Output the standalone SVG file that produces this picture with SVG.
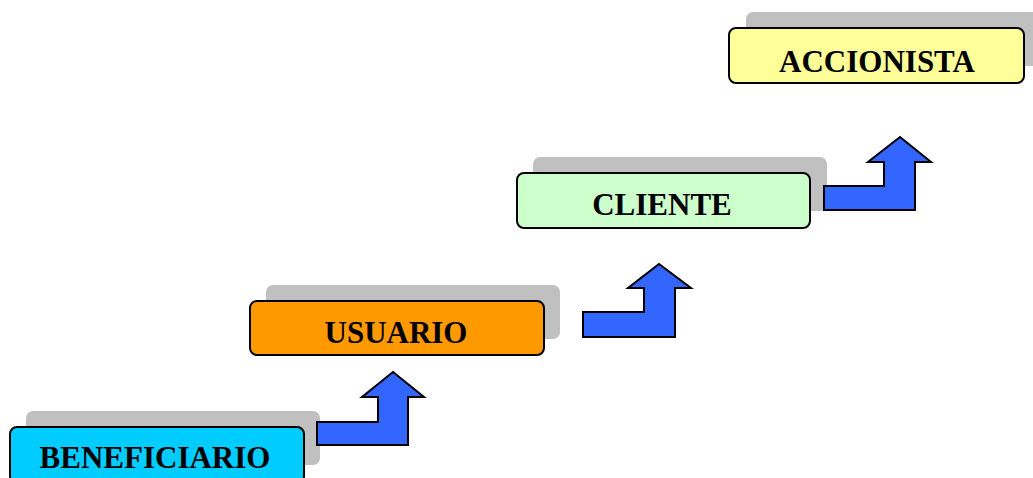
<svg xmlns="http://www.w3.org/2000/svg" width="1033" height="478" viewBox="0 0 1033 478">
<style>
.shadow{fill:#C0C0C0;stroke:none}
.box{stroke:#000;stroke-width:2}
.lbl{font-family:"Liberation Serif","Times New Roman",serif;font-weight:bold;font-size:31px;fill:#000;text-anchor:middle}
.arr{fill:#3366FF;stroke:#000;stroke-width:2;stroke-linejoin:miter}
</style>
<rect width="1033" height="478" fill="#fff"/>
<g id="beneficiario">
<rect class="shadow" x="26" y="411" width="294" height="54" rx="7"/>
<rect class="box" x="10" y="427" width="294" height="56" rx="7" fill="#00CCFF"/>
<text class="lbl" x="155" y="468">BENEFICIARIO</text>
</g>
<g id="usuario">
<rect class="shadow" x="266" y="285" width="294" height="54" rx="7"/>
<rect class="box" x="250" y="301" width="294" height="54" rx="7" fill="#FF9900"/>
<text class="lbl" x="396" y="343">USUARIO</text>
</g>
<g id="cliente">
<rect class="shadow" x="533" y="157" width="294" height="54" rx="7"/>
<rect class="box" x="517" y="173" width="293" height="55" rx="7" fill="#CCFFCC"/>
<text class="lbl" x="662" y="215">CLIENTE</text>
</g>
<g id="accionista">
<rect class="shadow" x="746" y="12" width="300" height="54" rx="7"/>
<rect class="box" x="729" y="28" width="295" height="55" rx="7" fill="#FFFF99"/>
<text class="lbl" x="877" y="72">ACCIONISTA</text>
</g>
<g id="connectors">
<polygon class="arr" points="317,422 378,422 378,397 362,397 393,372 424,397 408,397 408,445 317,445"/>
<polygon class="arr" points="583,312 644,312 644,288 628,288 659,264 691,288 675,288 675,337 583,337"/>
<polygon class="arr" points="824,186 884,186 884,162 868,162 900,137 931,162 915,162 915,210 824,210"/>
</g>
</svg>
